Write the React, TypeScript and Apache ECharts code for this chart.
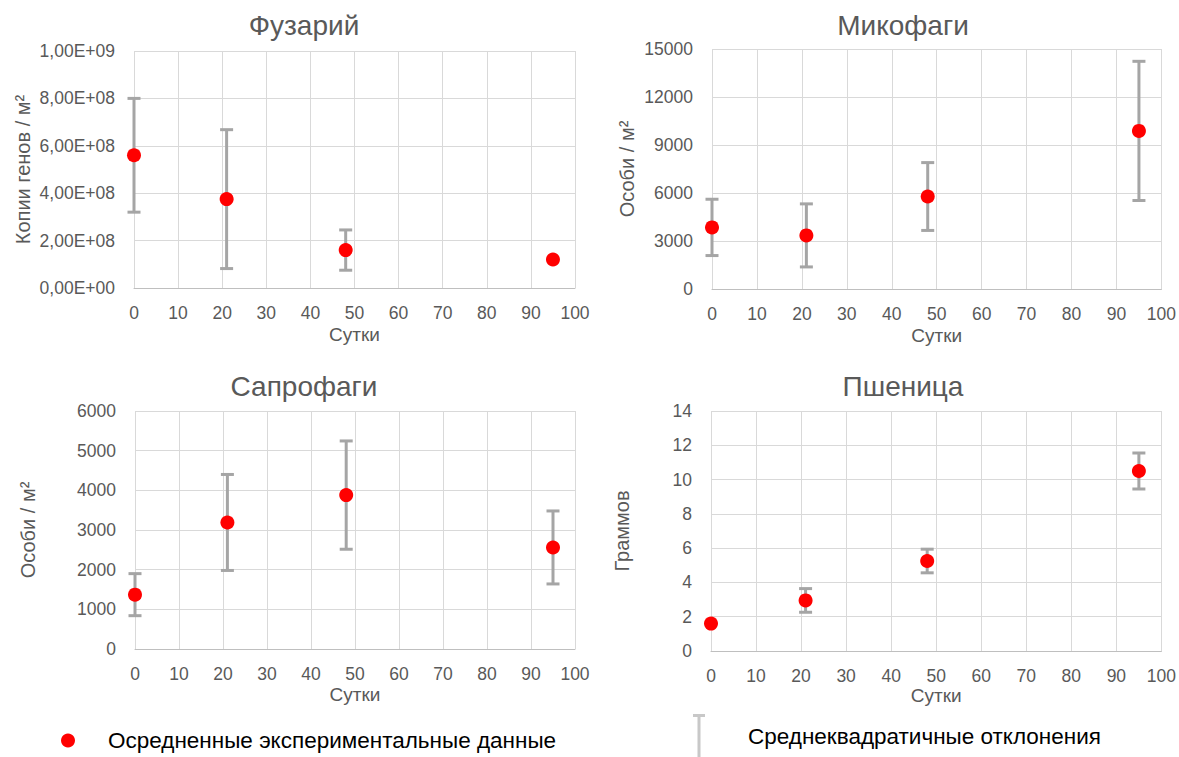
import React, { useEffect, useRef } from "react";
import * as echarts from "echarts";

// ---- data ----
const days = [0, 21, 48, 95];
const xTicks = [0, 10, 20, 30, 40, 50, 60, 70, 80, 90, 100];

const fusMean = [5.6e8, 3.75e8, 1.6e8, 1.2e8];
const fusSd = [2.4e8, 2.93e8, 0.85e8, null];

const mycoMean = [3850, 3350, 5780, 9880];
const mycoSd = [1760, 1970, 2120, 4350];

const saproMean = [1370, 3190, 3880, 2560];
const saproSd = [530, 1210, 1365, 920];

const wheatMean = [1.6, 2.95, 5.25, 10.5];
const wheatSd = [null, 0.69, 0.69, 1.05];

const titles = ["Фузарий", "Микофаги", "Сапрофаги", "Пшеница"];
const yNames = ["Копии генов / м²", "Особи / м²", "Особи / м²", "Граммов"];
const xName = "Сутки";
const yMax = [1e9, 15000, 6000, 14];
const yStep = [2e8, 3000, 1000, 2];

const meanName = "Осредненные экспериментальные данные";
const sdName = "Среднеквадратичные отклонения";

const FONT = "Liberation Sans";
const TXT = "#595959";
const GRID = "#d9d9d9";
const BAR = "#a5a5a5";

function sci(v: number) {
  if (v === 0) return "0,00E+00";
  const e = Math.floor(Math.log10(v) + 1e-9);
  const m = v / Math.pow(10, e);
  return m.toFixed(2).replace(".", ",") + "E+" + String(e).padStart(2, "0");
}

export default function App() {
  const ref = useRef<HTMLDivElement>(null);
  useEffect(() => {
    if (!ref.current) return;
    const chart = echarts.init(ref.current, null, { renderer: "svg" });

    const grids = [
      { left: 134, top: 51, width: 441, height: 237 },
      { left: 712, top: 49, width: 451, height: 240 },
      { left: 135, top: 411, width: 440, height: 238 },
      { left: 711, top: 411, width: 451, height: 240 },
    ];
    const yNameGap = [101, 75, 97, 79];
    const xNameGap = [37, 37, 36, 34];
    const titlePos = [
      { left: 304, top: 11 },
      { left: 903, top: 11 },
      { left: 304, top: 372 },
      { left: 903, top: 372 },
    ];
    const means = [fusMean, mycoMean, saproMean, wheatMean];
    const sds = [fusSd, mycoSd, saproSd, wheatSd];

    const xAxis = grids.map((_, i) => ({
      type: "value",
      gridIndex: i,
      min: xTicks[0],
      max: xTicks[xTicks.length - 1],
      interval: 10,
      name: xName,
      nameLocation: "middle",
      nameGap: xNameGap[i],
      nameTextStyle: { color: TXT, fontSize: 19, fontFamily: FONT },
      axisLine: { show: true, lineStyle: { color: "#bfbfbf", width: 1 } },
      axisTick: { show: false },
      axisLabel: { color: TXT, fontSize: 17.5, fontFamily: FONT, margin: 16 },
      splitLine: { show: true, lineStyle: { color: GRID, width: 1 } },
    }));

    const yAxis = grids.map((_, i) => ({
      type: "value",
      gridIndex: i,
      min: 0,
      max: yMax[i],
      interval: yStep[i],
      name: yNames[i],
      nameLocation: "middle",
      nameRotate: 90,
      nameGap: yNameGap[i],
      nameTextStyle: { color: TXT, fontSize: 20, fontFamily: FONT },
      axisLine: { show: false },
      axisTick: { show: false },
      axisLabel: {
        color: TXT,
        fontSize: 17.5,
        fontFamily: FONT,
        margin: 19,
        formatter: i === 0 ? (v: number) => sci(v) : (v: number) => String(v),
      },
      splitLine: { show: true, lineStyle: { color: GRID, width: 1 } },
    }));

    const series: any[] = [];
    grids.forEach((_, i) => {
      const errData = days
        .map((d, k) =>
          sds[i][k] == null ? null : [d, means[i][k] - (sds[i][k] as number), means[i][k] + (sds[i][k] as number)]
        )
        .filter((r) => r !== null);
      series.push({
        type: "custom",
        name: sdName,
        xAxisIndex: i,
        yAxisIndex: i,
        clip: false,
        z: 2,
        itemStyle: { color: BAR },
        encode: { x: 0, y: [1, 2] },
        data: errData,
        renderItem: (params: any, api: any) => {
          const x = api.value(0);
          const lo = api.value(1);
          const hi = api.value(2);
          const p1 = api.coord([x, hi]);
          const p2 = api.coord([x, lo]);
          const hw = 6.5;
          const st = { stroke: BAR, lineWidth: 3, fill: "none" };
          return {
            type: "group",
            children: [
              { type: "line", shape: { x1: p1[0], y1: p1[1], x2: p2[0], y2: p2[1] }, style: st },
              { type: "line", shape: { x1: p1[0] - hw, y1: p1[1], x2: p1[0] + hw, y2: p1[1] }, style: st },
              { type: "line", shape: { x1: p2[0] - hw, y1: p2[1], x2: p2[0] + hw, y2: p2[1] }, style: st },
            ],
          };
        },
      });
      series.push({
        type: "scatter",
        name: meanName,
        xAxisIndex: i,
        yAxisIndex: i,
        z: 5,
        symbol: "circle",
        symbolSize: 14,
        itemStyle: { color: "#ff0000", opacity: 1 },
        data: days.map((d, k) => [d, means[i][k]]),
      });
    });

    chart.setOption({
      animation: false,
      backgroundColor: "#ffffff",
      title: titles.map((t, i) => ({
        text: t,
        left: titlePos[i].left,
        top: titlePos[i].top,
        textAlign: "center",
        padding: 0,
        textStyle: { color: TXT, fontSize: 28, fontWeight: "normal", fontFamily: FONT },
      })),
      grid: grids,
      xAxis,
      yAxis,
      legend: [
        {
          data: [{ name: meanName, icon: "circle", itemStyle: { color: "#ff0000", opacity: 1 } }],
          left: 61,
          top: 729,
          padding: 0,
          itemWidth: 14,
          itemHeight: 14,
          selectedMode: false,
          textStyle: { color: "#000000", fontSize: 22.5, fontFamily: FONT, padding: [0, 0, 0, 28] },
        },
        {
          data: [{ name: sdName, icon: "path://M0,0H12V3H7.5V44H4.5V3H0Z", itemStyle: { color: "#c8c8c8" } }],
          left: 693,
          top: 714,
          padding: 0,
          itemWidth: 12,
          itemHeight: 44,
          selectedMode: false,
          textStyle: { color: "#000000", fontSize: 22.5, fontFamily: FONT, padding: [0, 0, 0, 38] },
        },
      ],
      series,
    });

    return () => chart.dispose();
  }, []);

  return (
    <div
      ref={ref}
      style={{ position: "fixed", left: 0, top: 0, width: 1179, height: 757, background: "#fff" }}
    />
  );
}
